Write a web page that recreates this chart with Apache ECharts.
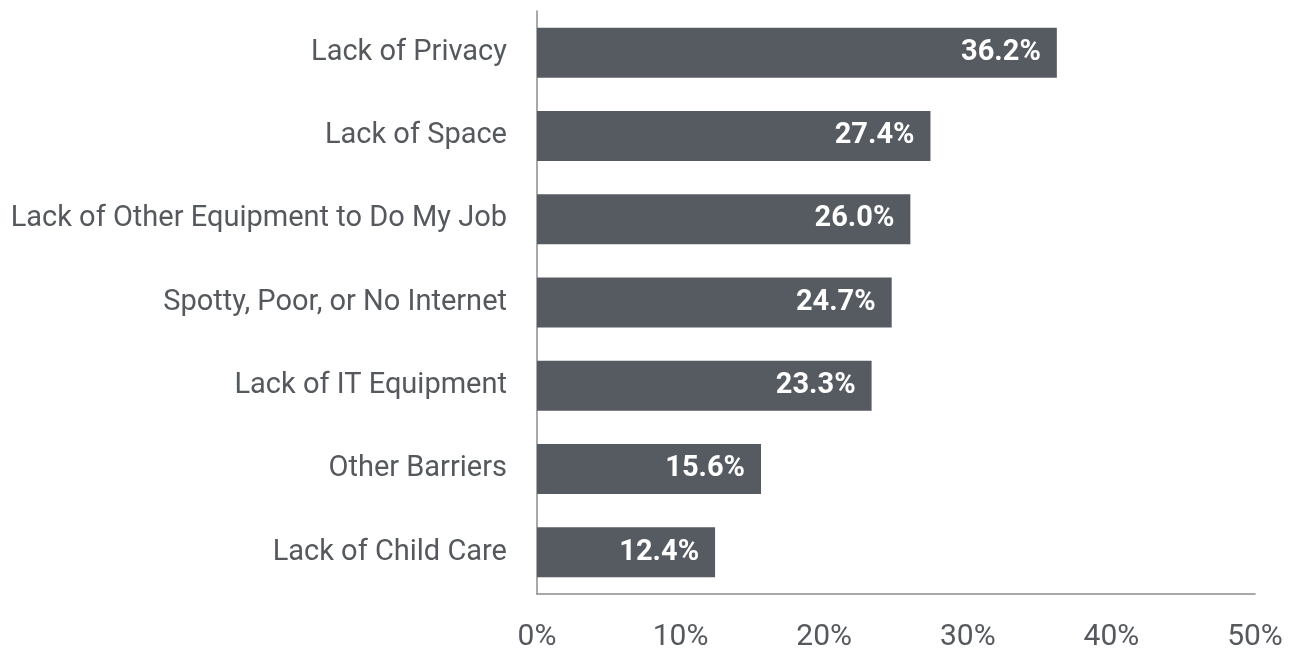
<!DOCTYPE html>
<html>
<head>
<meta charset="utf-8">
<style>
  html, body { margin: 0; padding: 0; background: #fff; }
  #chart { width: 1294px; height: 652px; }
</style>
<script src="https://cdn.jsdelivr.net/npm/echarts@6/dist/echarts.min.js"></script>
</head>
<body>
<div id="chart"></div>
<script>
// categories listed bottom to top (category axis starts at the bottom)
const categories = [
  "Lack of Child Care",
  "Other Barriers",
  "Lack of IT Equipment",
  "Spotty, Poor, or No Internet",
  "Lack of Other Equipment to Do My Job",
  "Lack of Space",
  "Lack of Privacy"
];
const values = [12.4, 15.6, 23.3, 24.7, 26.0, 27.4, 36.2];

const textColor = "#55595e";
const barColor = "#565a61";

const chart = echarts.init(document.getElementById("chart"));

chart.setOption({
  animation: false,
  grid: {
    left: 537,
    right: 39,
    top: 11,
    bottom: 55,
    containLabel: false
  },
  xAxis: {
    type: "value",
    min: 0,
    max: 50,
    interval: 10,
    axisLine: {show: true, lineStyle: {color: "#8c8c8c", width: 1.5}},
    axisTick: {show: false},
    splitLine: {show: false},
    axisLabel: {
      formatter: "{value}%",
      color: textColor,
      fontFamily: "Roboto",
      fontSize: 30,
      margin: 28
    }
  },
  yAxis: {
    type: "category",
    data: categories,
    axisLine: {show: true, lineStyle: {color: "#8c8c8c", width: 1.5}},
    axisTick: {show: false},
    axisLabel: {
      color: textColor,
      fontFamily: "Roboto",
      fontSize: 29,
      margin: 30,
      padding: [5, 0, 0, 0]
    }
  },
  series: [{
    type: "bar",
    data: values,
    barWidth: 50,
    itemStyle: {color: barColor},
    label: {
      show: true,
      position: "insideRight",
      distance: 16,
      formatter: p => p.value.toFixed(1) + "%",
      color: "#fff",
      fontFamily: "Roboto",
      fontWeight: "bold",
      fontSize: 29,
      padding: [4, 0, 0, 0]
    }
  }]
});
</script>
</body>
</html>
